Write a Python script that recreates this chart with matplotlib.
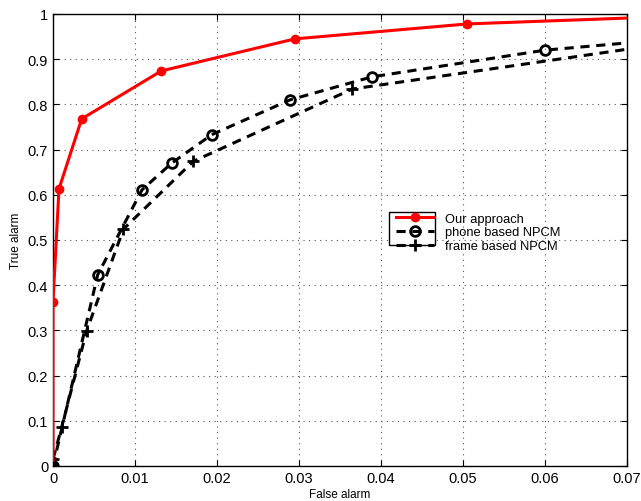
import matplotlib.pyplot as plt
from matplotlib.patches import Rectangle

plt.rcParams['font.family'] = ['Liberation Sans', 'DejaVu Sans']

# red curve
our_x = [0, 0, 0.00073, 0.0035, 0.0132, 0.0295, 0.0505, 0.07]
our_y = [0, 0.363, 0.613, 0.768, 0.874, 0.945, 0.978, 0.991]

# phone based (circles)
phone_x = [0, 0.00545, 0.01085, 0.01447, 0.01935, 0.0289, 0.0389, 0.06, 0.07]
phone_y = [0, 0.423, 0.611, 0.670, 0.733, 0.810, 0.861, 0.920, 0.936]
phone_mark = [0, 1, 2, 3, 4, 5, 6, 7]

# frame based (plus)
frame_x = [0, 0.00106, 0.0041, 0.00858, 0.0171, 0.0365, 0.07]
frame_y = [0.015, 0.086, 0.299, 0.524, 0.674, 0.834, 0.922]
frame_mark = [0, 1, 2, 3, 4, 5]

fig = plt.figure(figsize=(6.41, 5.02), dpi=100)
ax = fig.add_axes([53 / 641, 35 / 502, 574 / 641, 452 / 502])

ax.plot(our_x, our_y, '-', color='red', lw=2.2, marker='o', ms=6,
        markevery=list(range(1, 7)), mfc='red', mec='red', label='Our approach', zorder=4)
ax.plot(phone_x, phone_y, '--', color='black', lw=2.2, dashes=(3, 2.2), marker='o', ms=7,
        mfc='none', mec='black', mew=2, markevery=phone_mark, label='phone based NPCM', zorder=3)
ax.plot(frame_x, frame_y, '--', color='black', lw=2.2, dashes=(3, 2.2), marker='+', ms=8,
        mew=2, markevery=frame_mark, label='frame based NPCM', zorder=3)
ax.plot([0], [0], 'o', color='black', ms=6, zorder=5)

ax.set_xlim(0, 0.07)
ax.set_ylim(0, 1)
ax.set_xticks([0, 0.01, 0.02, 0.03, 0.04, 0.05, 0.06, 0.07])
ax.set_xticklabels(['0', '0.01', '0.02', '0.03', '0.04', '0.05', '0.06', '0.07'])
ax.set_yticks([i / 10 for i in range(11)])
ax.set_yticklabels(['0', '0.1', '0.2', '0.3', '0.4', '0.5', '0.6', '0.7', '0.8', '0.9', '1'])
ax.tick_params(direction='in', top=True, right=True, labelsize=10.5, length=4)
ax.grid(True, linestyle=(0, (1, 4)), color='#555555', lw=0.8)
for s in ax.spines.values():
    s.set_linewidth(1)

ax.set_xlabel('False alarm', fontsize=8.5, labelpad=2)
ax.set_ylabel('True alarm', fontsize=8.5, labelpad=4)

leg = ax.legend(loc='upper left', bbox_to_anchor=(0.58, 0.583), frameon=False, fontsize=9.3,
                handlelength=2.9, handletextpad=0.9, labelspacing=0.12, borderpad=0.3)
ax.add_patch(Rectangle((0.585, 0.489), 0.081, 0.073, transform=ax.transAxes,
                       fill=True, facecolor='white', edgecolor='black', lw=1, zorder=6))
leg.set_zorder(7)

fig.savefig('out.png', dpi=100)
